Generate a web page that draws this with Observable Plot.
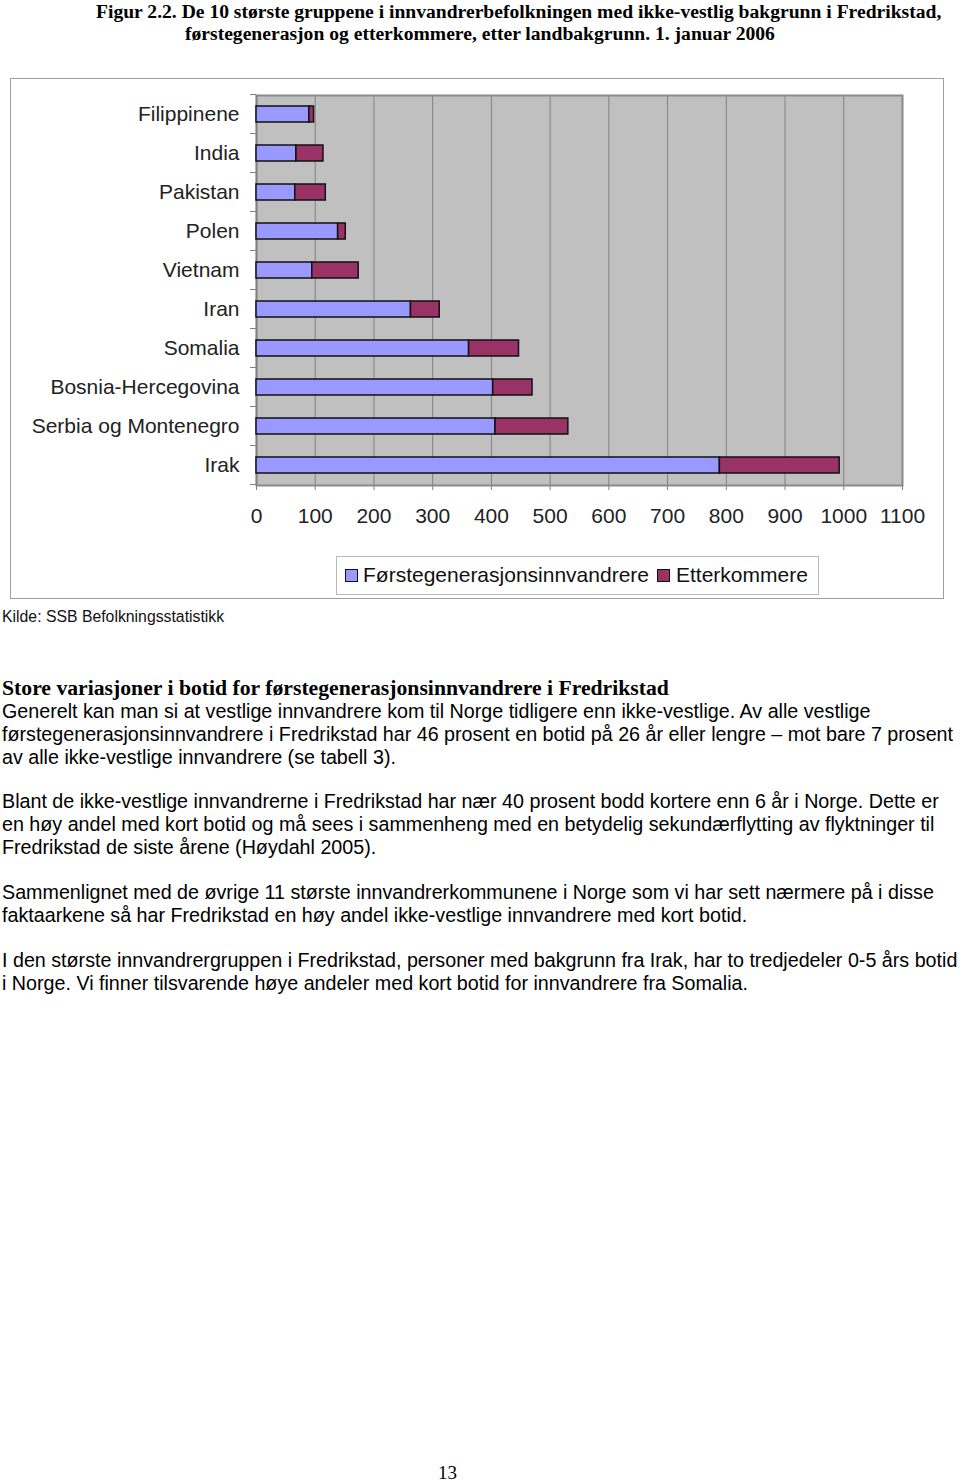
<!DOCTYPE html>
<html>
<head>
<meta charset="utf-8">
<script src="https://cdn.jsdelivr.net/npm/d3@7"></script>
<script src="https://cdn.jsdelivr.net/npm/@observablehq/plot@0.6"></script>
<style>
  html, body { margin: 0; padding: 0; background: #fff; }
  #page { position: relative; width: 960px; height: 1484px; overflow: hidden; }
  .abs { position: absolute; white-space: nowrap; }
  .title { font-family: "Liberation Serif", "Times New Roman", serif; font-weight: bold; font-size: 19.6px; line-height: 22px; color: #000; }
  .body { font-family: "Liberation Sans", Arial, sans-serif; font-size: 19.7px; line-height: 23px; color: #000; left: 2px; }
  .head { font-family: "Liberation Serif", "Times New Roman", serif; font-weight: bold; font-size: 21.7px; line-height: 23px; left: 2px; }
  #chartbox { position: absolute; left: 10px; top: 78px; width: 932px; height: 519px; border: 1px solid #a0a0a0; }
  #plot { position: absolute; left: 0; top: 0; }
  #legend { position: absolute; left: 336px; top: 556px; width: 481px; height: 37px; border: 1px solid #b8b8b8; background: #fff;
            font-family: "Liberation Sans", Arial, sans-serif; font-size: 21px; color: #111; }
  .sw { position: absolute; width: 11px; height: 11px; border: 1px solid #111; top: 12px; }
  .lt { position: absolute; top: 5px; line-height: 26px; }
</style>
</head>
<body>
<div id="page">
  <div class="abs title" style="left:96px; top:1px;">Figur 2.2. De 10 største gruppene i innvandrerbefolkningen med ikke-vestlig bakgrunn i Fredrikstad,</div>
  <div class="abs title" style="left:185px; top:23px;">førstegenerasjon og etterkommere, etter landbakgrunn. 1. januar 2006</div>

  <div id="chartbox"></div>
  <div id="plot"></div>
  <div id="legend"></div>

  <div class="abs" style="left:2px; top:608px; font-family:'Liberation Sans',Arial,sans-serif; font-size:15.8px; color:#111;">Kilde: SSB Befolkningsstatistikk</div>

  <div class="abs head" style="top:677px;">Store variasjoner i botid for førstegenerasjonsinnvandrere i Fredrikstad</div>
  <div class="abs body" style="top:700px;">Generelt kan man si at vestlige innvandrere kom til Norge tidligere enn ikke-vestlige. Av alle vestlige</div>
  <div class="abs body" style="top:723px;">førstegenerasjonsinnvandrere i Fredrikstad har 46 prosent en botid på 26 år eller lengre – mot bare 7 prosent</div>
  <div class="abs body" style="top:746px;">av alle ikke-vestlige innvandrere (se tabell 3).</div>

  <div class="abs body" style="top:790px;">Blant de ikke-vestlige innvandrerne i Fredrikstad har nær 40 prosent bodd kortere enn 6 år i Norge. Dette er</div>
  <div class="abs body" style="top:813px;">en høy andel med kort botid og må sees i sammenheng med en betydelig sekundærflytting av flyktninger til</div>
  <div class="abs body" style="top:836px;">Fredrikstad de siste årene (Høydahl 2005).</div>

  <div class="abs body" style="top:881px;">Sammenlignet med de øvrige 11 største innvandrerkommunene i Norge som vi har sett nærmere på i disse</div>
  <div class="abs body" style="top:904px;">faktaarkene så har Fredrikstad en høy andel ikke-vestlige innvandrere med kort botid.</div>

  <div class="abs body" style="top:949px;">I den største innvandrergruppen i Fredrikstad, personer med bakgrunn fra Irak, har to tredjedeler 0-5 års botid</div>
  <div class="abs body" style="top:972px;">i Norge. Vi finner tilsvarende høye andeler med kort botid for innvandrere fra Somalia.</div>

  <div class="abs" style="left:438px; top:1462px; font-family:'Liberation Serif','Times New Roman',serif; font-size:19px;">13</div>
</div>

<script>
// ---- data ----
const countries = ["Filippinene", "India", "Pakistan", "Polen", "Vietnam", "Iran", "Somalia", "Bosnia-Hercegovina", "Serbia og Montenegro", "Irak"];
const forstegenerasjon = [90, 68, 66, 139, 95, 263, 362, 403, 407, 789];
const etterkommere = [8, 46, 52, 13, 79, 49, 85, 67, 124, 204];
const seriesNames = ["Førstegenerasjonsinnvandrere", "Etterkommere"];
const seriesColors = ["#9999ff", "#993366"];
const xTicks = [0, 100, 200, 300, 400, 500, 600, 700, 800, 900, 1000, 1100];

const rows = [];
countries.forEach((c, i) => {
  rows.push({country: c, series: seriesNames[0], value: forstegenerasjon[i]});
  rows.push({country: c, series: seriesNames[1], value: etterkommere[i]});
});

// small category-boundary tick marks on the left of the y axis (Excel style)
function categoryTicks(index, scales, values, dimensions) {
  const y = scales.y;
  const g = d3.create("svg:g").attr("stroke", "#808080").attr("stroke-width", 1);
  const step = y.step ? y.step() : (y(countries[1]) - y(countries[0]));
  const bw = y.bandwidth ? y.bandwidth() : 0;
  const x0 = dimensions.marginLeft;
  const bounds = countries.map(c => y(c) + bw / 2 - step / 2);
  bounds.push(y(countries[countries.length - 1]) + bw / 2 + step / 2);
  bounds.forEach(b => g.append("line").attr("x1", x0 - 6).attr("x2", x0).attr("y1", b).attr("y2", b));
  return g.node();
}

const chart = Plot.plot({
  width: 960,
  height: 600,
  marginLeft: 256,
  marginRight: 58,
  marginTop: 95,
  marginBottom: 115,
  style: {fontFamily: "'Liberation Sans', Arial, sans-serif", fontSize: "21px", background: "transparent", color: "#111"},
  x: {domain: [0, 1100]},
  y: {domain: countries, paddingInner: 0.58, paddingOuter: 0.29, label: null},
  color: {domain: seriesNames, range: seriesColors},
  marks: [
    Plot.frame({fill: "#c0c0c0", stroke: "none"}),
    Plot.gridX(xTicks, {stroke: "#808080", strokeOpacity: 1, strokeWidth: 1}),
    Plot.frame({stroke: "#8a8a8a", strokeWidth: 2}),
    Plot.ruleX([0], {stroke: "#808080", strokeWidth: 1.5}),
    Plot.barX(rows, {y: "country", x: "value", fill: "series", stroke: "#111", strokeWidth: 1.5}),
    categoryTicks,
    Plot.axisY({tickSize: 0, tickPadding: 17, label: null, fontSize: 21, fill: "#222"}),
    Plot.axisX({ticks: xTicks, tickSize: 5, tickPadding: 18, label: null, fontSize: 21, fill: "#222", stroke: "#808080", tickFormat: d => String(d)})
  ]
});
document.getElementById("plot").appendChild(chart);

// legend
const lg = document.getElementById("legend");
const positions = [[8, 26], [320, 339]];
seriesNames.forEach((s, i) => {
  const sw = document.createElement("div");
  sw.className = "sw";
  sw.style.left = positions[i][0] + "px";
  sw.style.background = seriesColors[i];
  lg.appendChild(sw);
  const t = document.createElement("div");
  t.className = "lt";
  t.style.left = positions[i][1] + "px";
  t.textContent = s;
  lg.appendChild(t);
});
</script>
</body>
</html>
